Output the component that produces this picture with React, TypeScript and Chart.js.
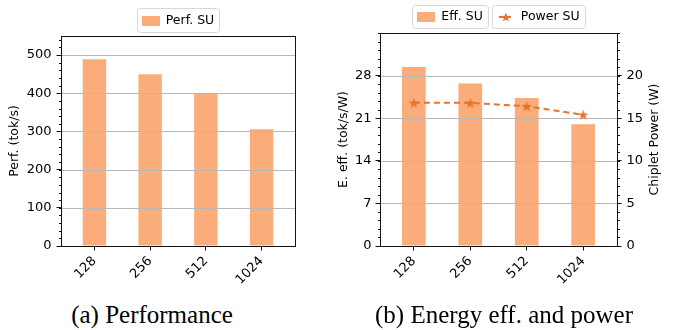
import React, { useEffect, useRef } from 'react';
import { Chart, registerables } from 'chart.js';

Chart.register(...registerables);

// ---- data ----
const categories = ['128', '256', '512', '1024'];
const perfSU = [489, 450, 398, 306];
const effSU = [29.4, 26.7, 24.3, 20.0];
const powerSU = [16.8, 16.8, 16.4, 15.4];
const perfTicks = [0, 100, 200, 300, 400, 500];
const effTicks = [0, 7, 14, 21, 28];
const powerTicks = [0, 5, 10, 15, 20];

// ---- style ----
const BAR = 'rgb(250,173,122)';
const LINE = 'rgb(232,116,40)';
const FONT = "'DejaVu Sans', sans-serif";
const GRID = '#b8b8b8';

function starPath(ctx: CanvasRenderingContext2D, cx: number, cy: number, r: number) {
  ctx.beginPath();
  for (let i = 0; i < 10; i++) {
    const rr = i % 2 === 0 ? r : r * 0.42;
    const a = -Math.PI / 2 + (i * Math.PI) / 5;
    const px = cx + rr * Math.cos(a);
    const py = cy + rr * Math.sin(a);
    if (i === 0) ctx.moveTo(px, py);
    else ctx.lineTo(px, py);
  }
  ctx.closePath();
}

function makeStar(r: number, color: string) {
  const s = Math.ceil(r * 2 + 2);
  const c = document.createElement('canvas');
  c.width = s;
  c.height = s;
  const ctx = c.getContext('2d')!;
  starPath(ctx, s / 2, s / 2 + 0.5, r);
  ctx.fillStyle = color;
  ctx.fill();
  return c;
}

type LegendItem = { kind: 'bar' | 'line'; label: string };

function roundRect(ctx: CanvasRenderingContext2D, x: number, y: number, w: number, h: number, r: number) {
  ctx.beginPath();
  ctx.moveTo(x + r, y);
  ctx.lineTo(x + w - r, y);
  ctx.arcTo(x + w, y, x + w, y + r, r);
  ctx.lineTo(x + w, y + h - r);
  ctx.arcTo(x + w, y + h, x + w - r, y + h, r);
  ctx.lineTo(x + r, y + h);
  ctx.arcTo(x, y + h, x, y + h - r, r);
  ctx.lineTo(x, y + r);
  ctx.arcTo(x, y, x + r, y, r);
  ctx.closePath();
}

function drawLegend(ctx: CanvasRenderingContext2D, items: LegendItem[], cx: number, top: number, h: number) {
  ctx.save();
  ctx.font = `12.5px ${FONT}`;
  const padL = 5, hw = 18, gap = 6, padR = 5, between = 4;
  const widths = items.map((it) => padL + hw + gap + ctx.measureText(it.label).width + padR);
  const total = widths.reduce((a, b) => a + b, 0) + between * (items.length - 1);
  let x = cx - total / 2;
  items.forEach((it, i) => {
    const w = widths[i];
    roundRect(ctx, Math.round(x) + 0.5, Math.round(top) + 0.5, Math.round(w), h, 3);
    ctx.fillStyle = 'rgba(255,255,255,0.9)';
    ctx.fill();
    ctx.strokeStyle = '#d8d8d8';
    ctx.lineWidth = 1;
    ctx.stroke();
    const my = top + h / 2 + 0.5;
    if (it.kind === 'bar') {
      ctx.fillStyle = BAR;
      ctx.fillRect(Math.round(x + padL), Math.round(my - 5), hw, 10);
    } else {
      ctx.strokeStyle = LINE;
      ctx.lineWidth = 2;
      ctx.setLineDash([5, 2]);
      ctx.beginPath();
      ctx.moveTo(x + padL + 2, my);
      ctx.lineTo(x + padL + hw - 2, my);
      ctx.stroke();
      ctx.setLineDash([]);
      starPath(ctx, x + padL + hw / 2, my + 0.5, 5);
      ctx.fillStyle = LINE;
      ctx.fill();
    }
    ctx.fillStyle = '#000';
    ctx.textAlign = 'left';
    ctx.textBaseline = 'middle';
    ctx.fillText(it.label, x + padL + hw + gap, my);
    x += w + between;
  });
  ctx.restore();
}

type DecorCfg = {
  gridTicks: number[];
  minor: { id: string; step: number; side: 'left' | 'right' }[];
  titles: { text: string; x: number }[];
  legend: LegendItem[];
  legendTop: number;
  legendH: number;
};

function makeDecor(cfg: DecorCfg) {
  return {
    id: 'decor',
    afterDatasetDraw(chart: any, args: any) {
      if (args.index !== 0) return;
      const ctx = chart.ctx as CanvasRenderingContext2D;
      const a = chart.chartArea;
      const ys = chart.scales.y;
      ctx.save();
      ctx.strokeStyle = GRID;
      ctx.lineWidth = 1;
      cfg.gridTicks.forEach((v) => {
        if (v === 0) return;
        const y = Math.round(ys.getPixelForValue(v)) + 0.5;
        ctx.beginPath();
        ctx.moveTo(a.left, y);
        ctx.lineTo(a.right, y);
        ctx.stroke();
      });
      ctx.restore();
    },
    afterDraw(chart: any) {
      const ctx = chart.ctx as CanvasRenderingContext2D;
      const a = chart.chartArea;
      ctx.save();
      // frame
      ctx.strokeStyle = '#111';
      ctx.lineWidth = 1;
      ctx.strokeRect(Math.round(a.left) + 0.5, Math.round(a.top) + 0.5, Math.round(a.right - a.left), Math.round(a.bottom - a.top));
      // minor ticks
      cfg.minor.forEach((m) => {
        const s = chart.scales[m.id];
        const x0 = m.side === 'left' ? Math.round(a.left) + 0.5 : Math.round(a.right) + 0.5;
        const x1 = m.side === 'left' ? x0 - 2.5 : x0 + 2.5;
        for (let k = 0; ; k++) {
          const v = k * m.step;
          if (v > s.max + 1e-9) break;
          const y = Math.round(s.getPixelForValue(v)) + 0.5;
          ctx.beginPath();
          ctx.moveTo(x0, y);
          ctx.lineTo(x1, y);
          ctx.stroke();
        }
      });
      // axis titles (rotated, bottom-to-top)
      ctx.fillStyle = '#000';
      ctx.font = `12.5px ${FONT}`;
      ctx.textAlign = 'center';
      ctx.textBaseline = 'middle';
      const cy = (a.top + a.bottom) / 2;
      cfg.titles.forEach((t) => {
        ctx.save();
        ctx.translate(t.x, cy);
        ctx.rotate(-Math.PI / 2);
        ctx.fillText(t.text, 0, 0);
        ctx.restore();
      });
      ctx.restore();
      drawLegend(ctx, cfg.legend, (a.left + a.right) / 2, cfg.legendTop, cfg.legendH);
    },
  };
}

const tickFont = { family: FONT, size: 13 };

function xScale() {
  return {
    type: 'linear' as const,
    min: -0.6,
    max: 3.6,
    offset: false,
    border: { display: false },
    grid: { display: true, drawOnChartArea: false, drawTicks: true, tickLength: 4.5, tickColor: '#111', offset: false },
    afterBuildTicks: (s: any) => {
      s.ticks = categories.map((_, i) => ({ value: i }));
    },
    afterFit: (s: any) => {
      s.height = 44;
    },
    ticks: {
      autoSkip: false,
      minRotation: 45,
      maxRotation: 45,
      padding: 3,
      color: '#000',
      font: tickFont,
      callback: (v: any) => categories[Math.round(Number(v))] ?? '',
    },
  };
}

function yScale(max: number, ticks: number[], width: number, position: 'left' | 'right', padding: number) {
  return {
    type: 'linear' as const,
    position,
    min: 0,
    max,
    border: { display: false },
    grid: { display: true, drawOnChartArea: false, drawTicks: true, tickLength: 4.5, tickColor: '#111' },
    afterBuildTicks: (s: any) => {
      s.ticks = ticks.map((v) => ({ value: v }));
    },
    afterFit: (s: any) => {
      s.width = width;
    },
    ticks: { color: '#000', font: tickFont, padding },
  };
}

function PerfChart() {
  const ref = useRef<HTMLCanvasElement | null>(null);
  useEffect(() => {
    const chart = new Chart(ref.current!, {
      type: 'bar',
      data: {
        datasets: [
          {
            label: 'Perf. SU',
            data: perfSU.map((v, i) => ({ x: i, y: v })),
            backgroundColor: BAR,
            borderWidth: 0,
            barPercentage: 0.42,
            categoryPercentage: 1,
          },
        ],
      },
      options: {
        animation: false,
        responsive: false,
        devicePixelRatio: 1,
        layout: { padding: { left: 0, right: 44, top: 36, bottom: 0 } },
        plugins: { legend: { display: false }, tooltip: { enabled: false } },
        scales: {
          x: xScale(),
          y: yScale(550, perfTicks, 61, 'left', 5),
        },
      } as any,
      plugins: [
        makeDecor({
          gridTicks: perfTicks,
          minor: [{ id: 'y', step: 20, side: 'left' }],
          titles: [{ text: 'Perf. (tok/s)', x: 15 }],
          legend: [{ kind: 'bar', label: 'Perf. SU' }],
          legendTop: 8,
          legendH: 24,
        }),
      ],
    });
    return () => chart.destroy();
  }, []);
  return <canvas ref={ref} width={339} height={290} style={{ position: 'absolute', left: 0, top: 0 }} />;
}

function EffChart() {
  const ref = useRef<HTMLCanvasElement | null>(null);
  useEffect(() => {
    const star = makeStar(5.5, LINE);
    const chart = new Chart(ref.current!, {
      type: 'bar',
      data: {
        datasets: [
          {
            type: 'bar',
            label: 'Eff. SU',
            data: effSU.map((v, i) => ({ x: i, y: v })),
            backgroundColor: BAR,
            borderWidth: 0,
            barPercentage: 0.42,
            categoryPercentage: 1,
            yAxisID: 'y',
            order: 2,
          },
          {
            type: 'line',
            label: 'Power SU',
            data: powerSU.map((v, i) => ({ x: i, y: v })),
            borderColor: LINE,
            backgroundColor: LINE,
            borderWidth: 2,
            borderDash: [6, 4],
            pointStyle: star,
            pointRadius: 5.5,
            yAxisID: 'y1',
            order: 1,
          },
        ],
      },
      options: {
        animation: false,
        responsive: false,
        devicePixelRatio: 1,
        layout: { padding: { left: 0, right: 0, top: 33, bottom: 0 } },
        plugins: { legend: { display: false }, tooltip: { enabled: false } },
        scales: {
          x: xScale(),
          y: yScale(35, effTicks, 50, 'left', 4),
          y1: yScale(25, powerTicks, 61, 'right', 5),
        },
      } as any,
      plugins: [
        makeDecor({
          gridTicks: effTicks,
          minor: [
            { id: 'y', step: 1.4, side: 'left' },
            { id: 'y1', step: 1, side: 'right' },
          ],
          titles: [
            { text: 'E. eff. (tok/s/W)', x: 14 },
            { text: 'Chiplet Power (W)', x: 325 },
          ],
          legend: [
            { kind: 'bar', label: 'Eff. SU' },
            { kind: 'line', label: 'Power SU' },
          ],
          legendTop: 5,
          legendH: 23,
        }),
      ],
    });
    return () => chart.destroy();
  }, []);
  return <canvas ref={ref} width={348} height={290} style={{ position: 'absolute', left: 330, top: 0 }} />;
}

const captionStyle: React.CSSProperties = {
  position: 'absolute',
  top: 302,
  width: 300,
  textAlign: 'center',
  fontFamily: "'Liberation Serif', 'Times New Roman', serif",
  fontSize: 25,
  lineHeight: '25px',
  color: '#000',
  whiteSpace: 'nowrap',
};

export default function App() {
  return (
    <div style={{ position: 'fixed', left: 0, top: 0, width: 678, height: 330, background: '#fff', overflow: 'hidden' }}>
      <PerfChart />
      <EffChart />
      <div style={{ ...captionStyle, left: 152 - 150 }}>(a) Performance</div>
      <div style={{ ...captionStyle, left: 504 - 150 }}>(b) Energy eff. and power</div>
    </div>
  );
}
